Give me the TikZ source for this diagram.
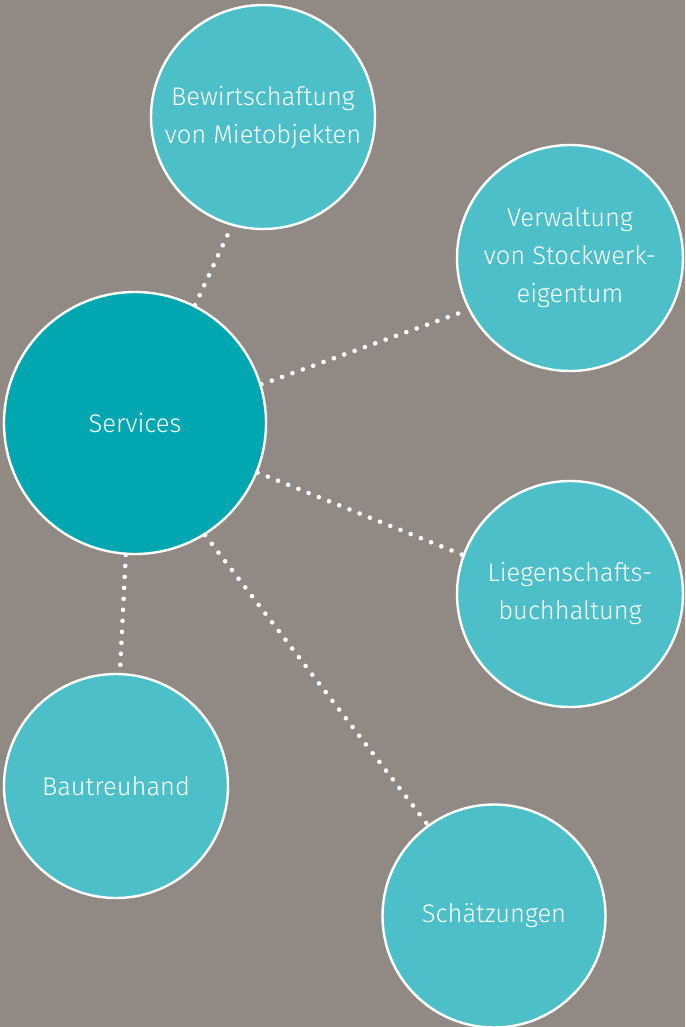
\documentclass[tikz,border=0pt]{standalone}
\usepackage{fontspec}
\setmainfont{Fira Sans Light}
\definecolor{bg}{HTML}{918A84}
\definecolor{svc}{HTML}{00A6B0}
\definecolor{lite}{HTML}{4DBFC8}
\begin{document}
\begin{tikzpicture}[x=1pt,y=-1pt,
  bubble/.style={circle, draw=white, line width=2.4pt, fill=lite, text=white, align=center, inner sep=0pt,
    font=\fontsize{25.5}{38}\selectfont},
  link/.style={white, line width=4.6pt, line cap=round, dash pattern=on 0pt off 11pt}]
\fill[bg] (0,0) rectangle (685,1027);
\useasboundingbox (0,0) rectangle (685,1027);
\node[bubble, fill=svc, minimum size=262pt] (svc) at (135,423) {Services};
\node[bubble, minimum size=224pt] (bew) at (263,117) {Bewirtschaftung\\von Mietobjekten};
\node[bubble, minimum size=226pt] (ver) at (570,258) {Verwaltung\\von Stockwerk-\\eigentum};
\node[bubble, minimum size=226pt] (lie) at (570,594) {Liegenschafts-\\buchhaltung};
\node[bubble, minimum size=224pt] (bau) at (116,786) {Bautreuhand};
\node[bubble, minimum size=223pt] (sch) at (494,916) {Schätzungen};
\draw[link] (svc.63.6) -- (bew.254.5);
\draw[link] (svc.17.5) -- (ver.207.9);
\draw[link] (svc.-22.3) -- (lie.160);
\draw[link] (svc.-94) -- (bau.88);
\draw[link] (svc.-58.6) -- (sch.126.6);
\end{tikzpicture}
\end{document}
